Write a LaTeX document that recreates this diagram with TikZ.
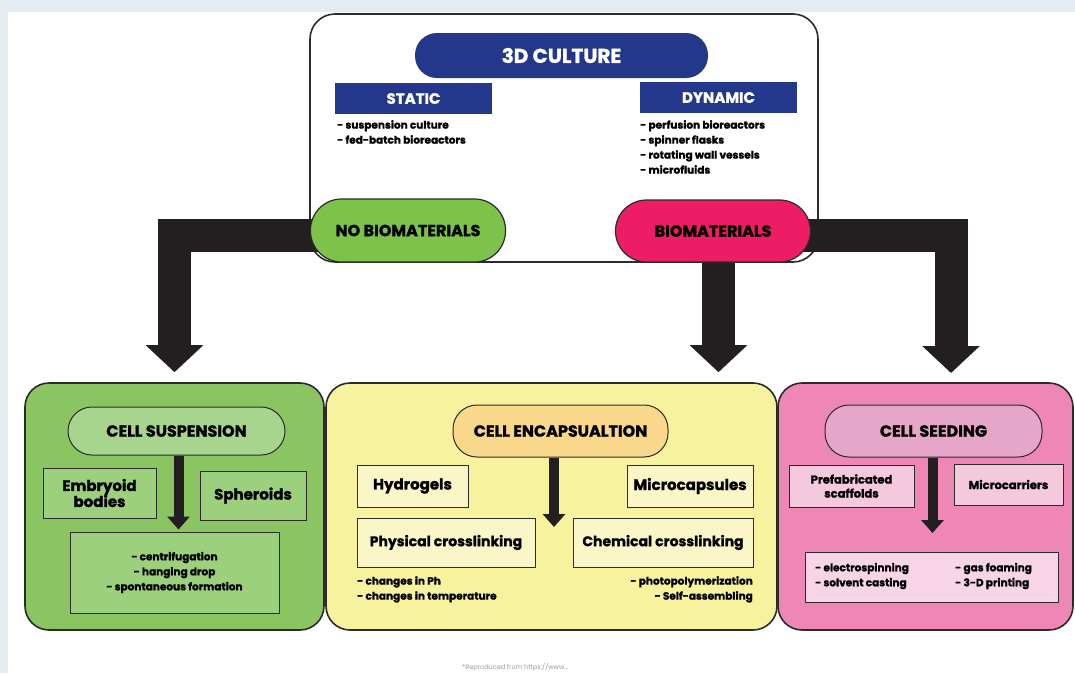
\documentclass[tikz,border=0pt]{standalone}
\usepackage{fontspec}
\setmainfont{Poppins}[BoldFeatures={FakeBold=1.3}]
\usetikzlibrary{arrows.meta,calc}
\pgfdeclarelayer{back}
\pgfdeclarelayer{mid}
\pgfsetlayers{back,mid,main}
\definecolor{bgc}{HTML}{E3EBF3}
\definecolor{dblue}{HTML}{23388A}
\definecolor{nobg}{HTML}{7DC24B}
\definecolor{biop}{HTML}{EC1C65}
\definecolor{arrc}{HTML}{231F20}
\definecolor{edge}{HTML}{2B2B2B}
\definecolor{gbox}{HTML}{8BC562}
\definecolor{gpill}{HTML}{A8D58E}
\definecolor{gsub}{HTML}{9DD07D}
\definecolor{ybox}{HTML}{F7F29E}
\definecolor{ypill}{HTML}{FAD88B}
\definecolor{ysub}{HTML}{FBF6C8}
\definecolor{pbox}{HTML}{EE86B6}
\definecolor{ppill}{HTML}{E6A6CA}
\definecolor{psub}{HTML}{F4C9DE}
\definecolor{pbul}{HTML}{F7D5E6}
\tikzset{
  sz/.style 2 args={minimum width=#1pt, minimum height=#2pt, inner sep=0pt},
  bluebox/.style={fill=dblue, text=white, font=\bfseries\fontsize{15}{17}\selectfont},
  bluepill/.style={fill=dblue, text=white, rounded corners=22pt, font=\bfseries\fontsize{20}{22}\selectfont},
  toppill/.style={draw=edge, line width=1.2pt, rounded corners=31pt, font=\bfseries\fontsize{16}{18}\selectfont},
  bigbox/.style={draw=edge, line width=1.6pt, rounded corners=24pt},
  subpill/.style={draw=edge, line width=1pt, rounded corners=24pt, font=\bfseries\fontsize{16}{18}\selectfont},
  subbox/.style={draw=edge, line width=1pt, font=\bfseries\fontsize{15}{18}\selectfont, align=center},
  listtext/.style={inner sep=0pt, font=\bfseries\fontsize{10.5}{15}\selectfont},
  bigarrow/.style={draw=arrc, line width=33pt, -{Triangle[width=56pt,length=27pt]}, shorten >=10pt},
  smallarrow/.style={draw=arrc, line width=10pt, -{Triangle[width=22pt,length=13pt]}},
}
\begin{document}
\begin{tikzpicture}[x=1pt,y=-1pt]
\useasboundingbox (0,0) rectangle (1075,673);
\begin{pgfonlayer}{back}
\fill[bgc] (0,0) rectangle (1075,673);
\fill[white] (8,12) rectangle (1075,673);
\node[draw=edge, line width=1.6pt, rounded corners=25pt, fill=white, sz={508}{248}] (top) at (564,138) {};
\end{pgfonlayer}

% top box content
\node[bluepill, sz={293}{45}] (culture) at (561.5,55.5) {3D CULTURE};
\node[bluebox, sz={157}{31}] (static) at (413.5,98.5) {STATIC};
\node[bluebox, sz={157}{31}] (dynamic) at (718.5,97.5) {DYNAMIC};
\node[listtext, anchor=north west, align=left] (slist) at (337,120) {- suspension culture\\- fed-batch bioreactors};
\node[listtext, anchor=north west, align=left] (dlist) at (640,120) {- perfusion bioreactors\\- spinner flasks\\- rotating wall vessels\\- microfluids};

% big boxes
\node[bigbox, fill=gbox, sz={299}{247}] (gb) at (174.5,506.5) {};
\node[bigbox, fill=ybox, sz={451}{247}] (yb) at (551.5,506.5) {};
\node[bigbox, fill=pbox, sz={295}{247}] (pb) at (925.5,506.5) {};

% pills and big arrows
\node[toppill, fill=nobg, sz={195}{63}] (nob) at (408,230.5) {NO BIOMATERIALS};
\node[toppill, fill=biop, sz={195}{62}] (bio) at (713,231) {BIOMATERIALS};
\coordinate (rt) at (951,383);
\begin{pgfonlayer}{mid}
\draw[bigarrow] ($(nob.center)+(0,5)$) -| (gb.north);
\draw[bigarrow] ($(bio.center)+(0,4.5)$) -| (rt);
\draw[bigarrow] ([xshift=5.5pt]bio.south) -- ([xshift=5.5pt]bio.south |- yb.north);
\end{pgfonlayer}

% green box content
\node[subpill, fill=gpill, sz={217}{48}] (csp) at (176.5,431) {CELL SUSPENSION};
\node[subbox, fill=gsub, sz={113}{50}] (emb) at (99.5,493) {Embryoid\\[-2pt]bodies};
\node[subbox, fill=gsub, sz={106}{49}] (sph) at (253,495.5) {Spheroids};
\node[subbox, fill=gsub, sz={209}{81}, font=\bfseries\fontsize{10.5}{15}\selectfont] (gbul) at (174.5,572.5) {- centrifugation\\- hanging drop\\- spontaneous formation};
\draw[smallarrow] ([xshift=2pt]csp.south) -- ([xshift=2pt,yshift=2pt]csp.south |- gbul.north);

% yellow box content
\node[subpill, fill=ypill, sz={215}{52}] (cep) at (560.5,431) {CELL ENCAPSUALTION};
\node[subbox, fill=ysub, sz={111}{42}] (hyd) at (412.5,486) {Hydrogels};
\node[subbox, fill=ysub, sz={126}{42}] (mic) at (690,486) {Microcapsules};
\node[subbox, fill=ysub, sz={178}{49}, font=\bfseries\fontsize{14}{16}\selectfont] (phy) at (446,542.5) {Physical crosslinking};
\node[subbox, fill=ysub, sz={180}{49}, font=\bfseries\fontsize{14}{16}\selectfont] (che) at (663,542.5) {Chemical crosslinking};
\coordinate (yend) at (554,527);
\draw[smallarrow] (cep.south -| yend) -- (yend);
\node[listtext, anchor=north west, align=left] (plist) at (357,576) {- changes in Ph\\- changes in temperature};
\node[listtext, anchor=north east, align=right] (clist) at (753,576) {- photopolymerization\\- Self-assembling};

% pink box content
\node[subpill, fill=ppill, sz={217}{52}] (csd) at (933.5,431) {CELL SEEDING};
\node[subbox, fill=psub, sz={125}{42}, font=\bfseries\fontsize{11.5}{14}\selectfont] (pre) at (851.5,486) {Prefabricated\\scaffolds};
\node[subbox, fill=psub, sz={109}{41}, font=\bfseries\fontsize{11.5}{14}\selectfont] (mcr) at (1008.5,484.5) {Microcarriers};
\node[subbox, fill=pbul, sz={253}{50}] (pbl) at (931.5,577) {};
\node[listtext, anchor=west, align=left] (pl1) at (815,576) {- electrospinning\\- solvent casting};
\node[listtext, anchor=west, align=left] (pl2) at (955,576) {- gas foaming\\- 3-D printing};
\coordinate (pend) at (932.5,533);
\draw[smallarrow] (csd.south -| pend) -- (pend);

% footnote
\node[anchor=west, inner sep=0pt, text=black!40, font=\fontsize{6.5}{8}\selectfont] (fn) at (462,667) {*Reproduced from https://www...};
\end{tikzpicture}
\end{document}
